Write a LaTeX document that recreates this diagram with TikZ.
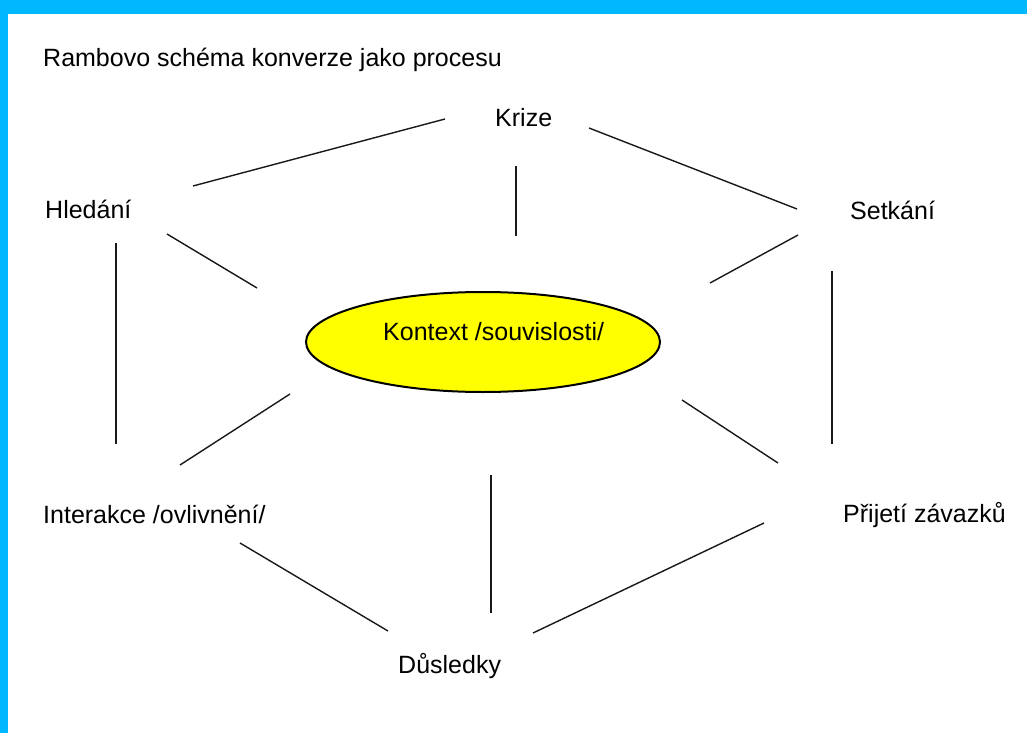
\documentclass[tikz,border=0pt]{standalone}
\usepackage{fontspec}
\setmainfont{Liberation Sans}
\usetikzlibrary{shapes.geometric}
\definecolor{frame}{RGB}{0,184,255}
\definecolor{ctxfill}{RGB}{255,255,0}
\begin{document}
\begin{tikzpicture}[x=1pt,y=-1pt,
  lbl/.style={anchor=base west,inner sep=0pt,font=\fontsize{25}{30}\selectfont,text=black},
  conn/.style={line width=1.4pt,draw=black!90},
  ctx/.style={ellipse,draw=black,line width=2pt,fill=ctxfill,minimum width=354pt,minimum height=100pt,inner sep=0pt}]
\useasboundingbox (0,0) rectangle (1027,733);
\fill[white] (0,0) rectangle (1027,733);
\fill[frame] (0,0) rectangle (1027,14);
\fill[frame] (0,0) rectangle (8,733);
% nodes
\node[lbl] (title) at (43,67) {Rambovo schéma konverze jako procesu};
\node[ctx] (ctx) at (483,342) {};
\node[lbl] (ctxt) at (383,340) {Kontext /souvislosti/};
\node[lbl] (krize) at (495,127) {Krize};
\node[lbl] (hled) at (45,218) {Hledání};
\node[lbl] (setk) at (850,219) {Setkání};
\node[lbl] (inter) at (43,523) {Interakce /ovlivnění/};
\node[lbl] (prij) at (843,522) {Přijetí závazků};
\node[lbl] (dusl) at (398,673) {Důsledky};
% connector end points
\coordinate (kh1) at (193,186); \coordinate (kh2) at (445,119);
\coordinate (ks1) at (589,128); \coordinate (ks2) at (797,209);
\coordinate (kc1) at (516,166); \coordinate (kc2) at (516,236);
\coordinate (hc1) at (167,234); \coordinate (hc2) at (257,288);
\coordinate (sc1) at (798,235); \coordinate (sc2) at (710,283);
\coordinate (hi1) at (116,243); \coordinate (hi2) at (116,444);
\coordinate (sp1) at (832,271); \coordinate (sp2) at (832,444);
\coordinate (ic1) at (180,465); \coordinate (ic2) at (290,394);
\coordinate (pc1) at (682,400); \coordinate (pc2) at (778,463);
\coordinate (dc1) at (491,475); \coordinate (dc2) at (491,613);
\coordinate (id1) at (240,543); \coordinate (id2) at (388,631);
\coordinate (pd1) at (764,523); \coordinate (pd2) at (533,633);
% connectors
\draw[conn] (kh1) -- (kh2);
\draw[conn] (ks1) -- (ks2);
\draw[conn] (kc1) -- (kc2);
\draw[conn] (hc1) -- (hc2);
\draw[conn] (sc1) -- (sc2);
\draw[conn] (hi1) -- (hi2);
\draw[conn] (sp1) -- (sp2);
\draw[conn] (ic1) -- (ic2);
\draw[conn] (pc1) -- (pc2);
\draw[conn] (dc1) -- (dc2);
\draw[conn] (id1) -- (id2);
\draw[conn] (pd1) -- (pd2);
\end{tikzpicture}
\end{document}
